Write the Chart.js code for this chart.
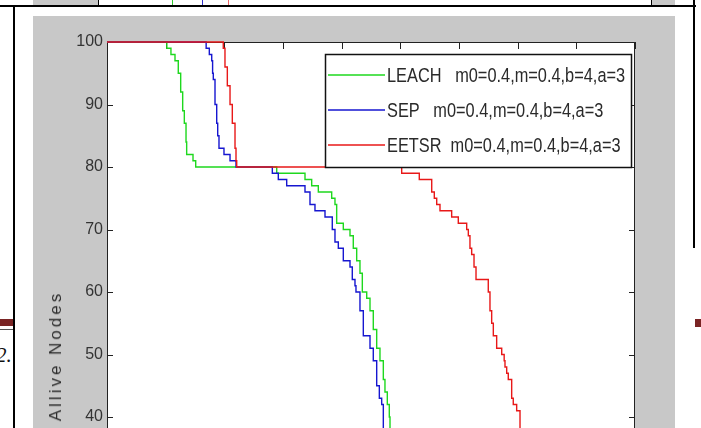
<!DOCTYPE html>
<html>
<head>
<meta charset="utf-8">
<script src="https://cdn.jsdelivr.net/npm/chart.js@4.4.1/dist/chart.umd.min.js"></script>
<style>
  html, body { margin: 0; padding: 0; width: 701px; height: 428px; overflow: hidden; background: #fff; }
  .abs { position: absolute; }
  #fig { position: absolute; left: 33px; top: 16px; width: 642px; height: 412px; background: #c8c8c8; }
  #ytitle {
    position: absolute; left: 56px; top: 356px;
    transform: translate(-50%, -50%) rotate(-90deg);
    font: 17px "Liberation Sans", Arial, sans-serif; letter-spacing: 3px;
    color: #2e2e2e; white-space: nowrap;
  }
  #pagenum { position: absolute; left: -4px; top: 343px; font: italic 21px "Liberation Serif", serif; color: #111; }
</style>
</head>
<body>
<!-- bits of the page around the figure -->
<div class="abs" style="left:33px;top:0;width:65px;height:5px;background:#c8c8c8"></div>
<div class="abs" style="left:98px;top:0;width:1px;height:5px;background:#000"></div>
<div class="abs" style="left:172px;top:0;width:1px;height:5px;background:#3c3"></div>
<div class="abs" style="left:202px;top:0;width:1px;height:5px;background:#33c"></div>
<div class="abs" style="left:228px;top:0;width:1px;height:5px;background:#e66"></div>
<div class="abs" style="left:652px;top:0;width:23px;height:5px;background:#c8c8c8"></div>
<div class="abs" style="left:651px;top:0;width:1px;height:5px;background:#000"></div>
<div class="abs" style="left:0;top:5px;width:696px;height:2px;background:#000"></div>
<div class="abs" style="left:13px;top:5px;width:2px;height:423px;background:#000"></div>
<div class="abs" style="left:693px;top:0;width:2px;height:248px;background:#000"></div>
<div class="abs" style="left:0;top:319px;width:13px;height:7px;background:#7a2424"></div>
<div class="abs" style="left:0;top:329px;width:13px;height:1px;background:#555"></div>
<div class="abs" style="left:695px;top:319px;width:6px;height:8px;background:#7a2424"></div>
<div id="pagenum">2.</div>

<div id="fig"><canvas id="c" width="642" height="412"></canvas></div>
<div id="ytitle">Allive Nodes</div>

<script>
// rounds, alive nodes (stepped: value drops at that round)
const leachRounds = [0, 1020, 1090, 1159, 1215, 1256, 1290, 1318, 1347, 1358, 1466, 1512,
  2893, 3375, 3489, 3602, 3830, 3886, 3915, 4028, 4142, 4198, 4256, 4312, 4352,
  4427, 4483, 4539, 4597, 4653, 4710, 4738, 4778, 4812, 4824]
const leachAlive = [100, 99, 98, 97, 95, 92, 89, 87, 84, 82, 81, 80,
  79, 78, 77, 76, 75, 74, 71, 70, 69, 67, 65, 63, 60,
  59, 57, 54, 51, 49, 46, 44, 42, 40, 38]

const sepRounds = [0, 1690, 1744, 1785, 1800, 1812, 1841, 1870, 1887, 1909, 1994, 2097, 2199,
  2818, 2920, 3063, 3375, 3460, 3545, 3716, 3840, 3886, 3943, 4028, 4142, 4181, 4227, 4244,
  4312, 4369, 4483, 4539, 4597, 4642, 4682, 4710]
const sepAlive = [100, 99, 98, 97, 95, 94, 90, 87, 85, 83, 82, 81, 80,
  79, 78, 77, 76, 74, 73, 72, 70, 68, 67, 65, 64, 62, 61, 60,
  57, 53, 51, 49, 45, 43, 42, 38]

const eetsrRounds = [0, 1982, 2011, 2051, 2097, 2136, 2182, 2199, 2211,
  5023, 5323, 5535, 5579, 5620, 5676, 5875, 5988, 6131, 6159, 6187, 6216, 6256, 6290,
  6499, 6528, 6557, 6585, 6642, 6728, 6770, 6784, 6813, 6840, 6898, 6925, 6983, 7040]
const eetsrAlive = [100, 99, 96, 93, 90, 87, 83, 81, 80,
  79, 78, 76, 75, 74, 73, 72, 71, 70, 69, 67, 66, 64, 62,
  60, 57, 55, 53, 51, 50, 49, 48, 47, 46, 43, 42, 41, 38]

const seriesLabels = ['LEACH   m0=0.4,m=0.4,b=4,a=3', 'SEP   m0=0.4,m=0.4,b=4,a=3', 'EETSR  m0=0.4,m=0.4,b=4,a=3']
const seriesColors = ['#1ed81e', '#1616d0', '#e81818']

const yTickValues = [40, 50, 60, 70, 80, 90, 100]
const xTickValues = [0, 1000, 2000, 3000, 4000, 5000, 6000, 7000, 8000, 9000]

const plotFont = '"Liberation Sans", Arial, sans-serif'

function toPoints(xs, ys){
    return xs.map((x, i) => ({x: x, y: ys[i]}))
}

// white axes, box with inward tick marks, like matlab draws it
const matlabBox = {
    id: 'matlabBox',
    beforeDraw(chart){
        const {ctx, chartArea: a} = chart
        ctx.save()
        ctx.fillStyle = '#fff'
        ctx.fillRect(a.left, a.top, a.right - a.left, a.bottom - a.top)
        ctx.restore()
    },
    beforeDatasetsDraw(chart){
        const {ctx, chartArea: a} = chart
        const xs = chart.scales.x, ys = chart.scales.y
        ctx.save()
        ctx.strokeStyle = '#222'
        ctx.lineWidth = 1
        ctx.strokeRect(a.left + 0.5, a.top + 0.5, a.right - a.left - 1, a.bottom - a.top + 5)
        ctx.beginPath()
        ys.ticks.forEach(t => {
            const py = Math.round(ys.getPixelForValue(t.value)) + 0.5
            ctx.moveTo(a.left, py); ctx.lineTo(a.left + 6, py)
            ctx.moveTo(a.right, py); ctx.lineTo(a.right - 6, py)
        })
        xs.ticks.forEach(t => {
            const px = Math.round(xs.getPixelForValue(t.value)) + 0.5
            ctx.moveTo(px, a.top); ctx.lineTo(px, a.top + 7)
        })
        ctx.stroke()
        ctx.restore()
    },
    afterDatasetsDraw(chart){
        // legend box, top right inside the axes
        const {ctx, chartArea: a} = chart
        const w = 306, h = 113
        const left = a.right - 4 - w, top = a.top + 12
        ctx.save()
        ctx.fillStyle = '#fff'
        ctx.fillRect(left, top, w, h)
        ctx.strokeStyle = '#111'
        ctx.lineWidth = 1.5
        ctx.strokeRect(left + 0.5, top + 0.5, w, h)
        ctx.font = '15px ' + plotFont
        ctx.textBaseline = 'middle'
        chart.data.datasets.forEach((ds, i) => {
            const ly = top + 21 + i * 35
            ctx.strokeStyle = ds.borderColor
            ctx.lineWidth = 1.4
            ctx.beginPath()
            ctx.moveTo(left + 3, ly); ctx.lineTo(left + 60, ly)
            ctx.stroke()
            // the scanned figure is stretched upright, so stretch the text the same way
            ctx.save()
            ctx.translate(left + 62, ly + 2)
            ctx.scale(1.09, 1.3)
            ctx.fillStyle = '#2a2a2a'
            ctx.fillText(ds.label, 0, 0)
            ctx.restore()
        })
        ctx.restore()
    }
}

const chart = new Chart(document.getElementById('c'), {
    type: 'line',
    data: {
        datasets: [
            { label: seriesLabels[0], data: toPoints(leachRounds, leachAlive), borderColor: seriesColors[0], order: 3 },
            { label: seriesLabels[1], data: toPoints(sepRounds, sepAlive), borderColor: seriesColors[1], order: 2 },
            { label: seriesLabels[2], data: toPoints(eetsrRounds, eetsrAlive), borderColor: seriesColors[2], order: 1 }
        ]
    },
    options: {
        responsive: false,
        animation: false,
        layout: { autoPadding: false, padding: { left: 0, top: 26, right: 40, bottom: 0 } },
        elements: {
            line: { borderWidth: 1.4, stepped: true, tension: 0 },
            point: { radius: 0 }
        },
        datasets: { line: { clip: false } },
        plugins: { legend: { display: false }, tooltip: { enabled: false } },
        scales: {
            x: {
                type: 'linear', min: 0, max: 9000,
                afterBuildTicks: s => { s.ticks = xTickValues.map(v => ({value: v})) },
                afterFit: s => { s.height = 0; s.paddingLeft = 0; s.paddingRight = 0 },
                ticks: { display: false },
                grid: { display: false, drawTicks: false },
                border: { display: false }
            },
            y: {
                min: 38.24, max: 100,
                afterBuildTicks: s => { s.ticks = yTickValues.map(v => ({value: v})) },
                afterFit: s => { s.width = 74; s.paddingTop = 0; s.paddingBottom = 0 },
                ticks: { padding: 4, color: '#333', font: { family: plotFont, size: 16 } },
                grid: { display: false, drawTicks: false },
                border: { display: false }
            }
        }
    },
    plugins: [matlabBox]
})
</script>
</body>
</html>
